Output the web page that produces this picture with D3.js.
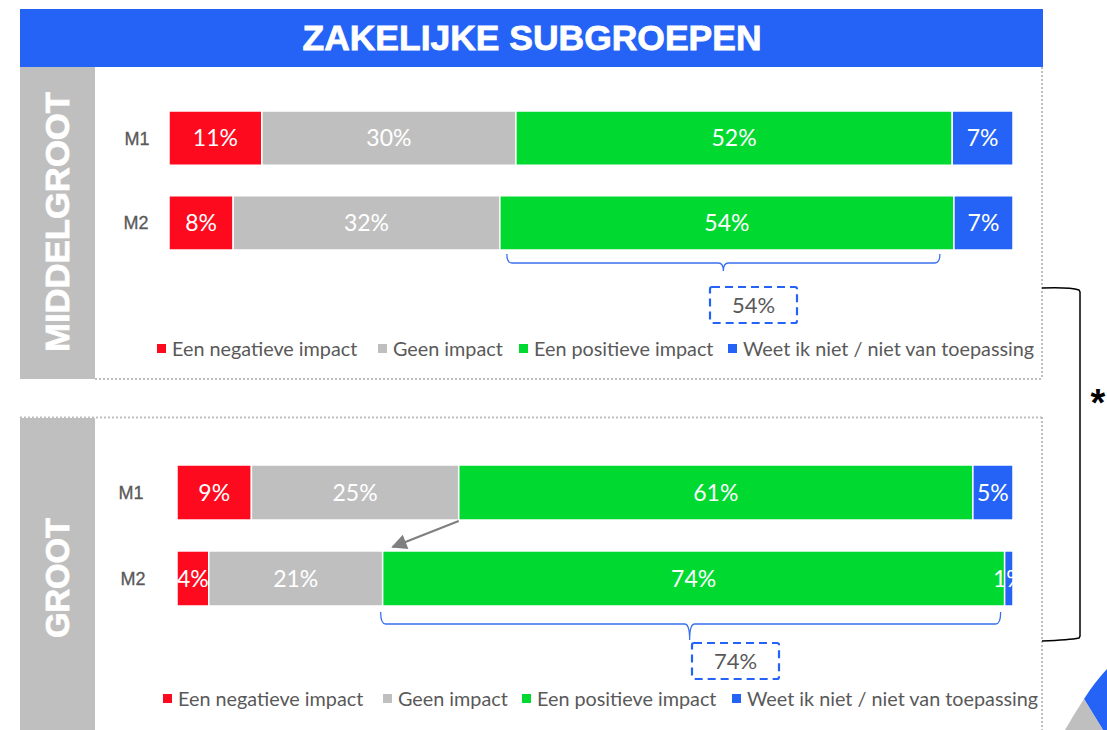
<!DOCTYPE html>
<html><head><meta charset="utf-8">
<script src="https://cdn.jsdelivr.net/npm/d3@7"></script>
<style>body{margin:0;background:#fff}svg{display:block}</style>
</head><body>
<svg id="c" width="1107" height="730"></svg>
<script>
// ---------- data ----------
const title = "ZAKELIJKE SUBGROEPEN";
const groups = ["MIDDELGROOT", "GROOT"];
const categories = ["M1", "M2"];
const seriesNames = ["Een negatieve impact", "Geen impact", "Een positieve impact", "Weet ik niet / niet van toepassing"];
const seriesColors = ["#FD0A1E", "#BFBFBF", "#00DA30", "#2463F5"];
// values and their printed labels
const midValues = [[11.0, 30.1, 51.7, 7.2], [7.6, 31.6, 53.8, 7.0]];
const midLabels = [["11%", "30%", "52%", "7%"], ["8%", "32%", "54%", "7%"]];
const grootValues = [[8.9, 24.8, 61.5, 4.8], [3.8, 20.8, 74.4, 1.0]];
const grootLabels = [["9%", "25%", "61%", "5%"], ["4%", "21%", "74%", "1%"]];
const highlight = ["54%", "74%"];

// ---------- layout ----------
const svg = d3.select("#c");
const font = "Lato, 'Open Sans', sans-serif";

// title bar
svg.append("rect").attr("x", 20).attr("y", 9).attr("width", 1023).attr("height", 58).attr("fill", "#2463F5");
svg.append("text").attr("x", 532).attr("y", 50).attr("text-anchor", "middle")
  .attr("fill", "#fff").attr("font-family", "'Liberation Sans', Arial, sans-serif").attr("font-weight", "bold")
  .attr("font-size", 35).attr("stroke", "#fff").attr("stroke-width", 0.8)
  .attr("textLength", 459).attr("lengthAdjust", "spacingAndGlyphs").text(title);

const panels = [
  {name: groups[0], values: midValues, labels: midLabels, top: 67, bottom: 379, x0: 169, x1: 1013,
   band: [111, 250], brace: {y0: 254, y1: 263, y2: 271}, box: {x: 710, y: 287, w: 87, h: 36},
   nameLen: 260, nameY: 222, catX: [137, 136], legX: [157, 378, 519, 728], legY: 349, hl: highlight[0], borderTop: false},
  {name: groups[1], values: grootValues, labels: grootLabels, top: 417, bottom: 740, x0: 177, x1: 1013,
   band: [465, 606], brace: {y0: 612, y1: 624, y2: 640}, box: {x: 692, y: 643, w: 87, h: 36},
   nameLen: 120, nameY: 578, catX: [131, 133], legX: [163, 383, 522, 732], legY: 699, hl: highlight[1], borderTop: true}
];

panels.forEach((p, pi) => {
  const g = svg.append("g");
  // dotted borders
  const dot = s => s.attr("stroke", "#BFBFBF").attr("stroke-width", 2).attr("stroke-dasharray", "2,2").attr("fill", "none");
  if (p.borderTop) dot(g.append("line").attr("x1", 20).attr("x2", 1042).attr("y1", p.top + 0.5).attr("y2", p.top + 0.5));
  dot(g.append("line").attr("x1", 1042).attr("x2", 1042).attr("y1", p.top).attr("y2", p.bottom));
  if (pi === 0) dot(g.append("line").attr("x1", 95).attr("x2", 1042).attr("y1", p.bottom).attr("y2", p.bottom));
  // side bar
  g.append("rect").attr("x", 20).attr("y", p.top + (p.borderTop ? 1 : 0)).attr("width", 75)
    .attr("height", Math.min(p.bottom, 730) - p.top).attr("fill", "#BFBFBF");
  g.append("text").attr("transform", `translate(69,${p.nameY}) rotate(-90)`).attr("text-anchor", "middle")
    .attr("fill", "#fff").attr("font-family", "'Liberation Sans', Arial, sans-serif").attr("font-weight", "bold")
    .attr("font-size", 33).attr("stroke", "#fff").attr("stroke-width", 0.8)
    .attr("textLength", p.nameLen).attr("lengthAdjust", "spacingAndGlyphs").text(p.name);

  const x = d3.scaleLinear().domain([0, 100]).range([p.x0, p.x1]);
  const y = d3.scaleBand().domain(categories).range(p.band).paddingInner(0.36).paddingOuter(0);

  // category labels
  categories.forEach((c, ci) => {
    g.append("text").attr("x", p.catX[ci]).attr("y", y(c) + y.bandwidth() / 2).attr("dy", "0.36em")
      .attr("text-anchor", "middle").attr("fill", "#595959").attr("font-family", "'Liberation Sans', Arial, sans-serif")
      .attr("font-size", 18).attr("stroke", "#595959").attr("stroke-width", 0.3).text(c);
  });

  // stacked segments
  const rows = categories.map((c, ci) => {
    let acc = 0;
    return p.values[ci].map((v, si) => { const s = {cat: c, si, x0: acc, x1: acc + v, label: p.labels[ci][si]}; acc += v; return s; });
  });
  const segG = g.append("g");
  rows.flat().forEach(s => {
    segG.append("rect").attr("x", x(s.x0)).attr("y", y(s.cat)).attr("width", x(s.x1) - x(s.x0))
      .attr("height", y.bandwidth()).attr("fill", seriesColors[s.si]).attr("stroke", "#fff").attr("stroke-width", 1.5);
  });
  rows.flat().forEach(s => {
    segG.append("text").attr("x", (x(s.x0) + x(s.x1)) / 2).attr("y", y(s.cat) + y.bandwidth() / 2).attr("dy", "0.36em")
      .attr("text-anchor", "middle").attr("fill", "#fff").attr("font-family", font).attr("font-size", 23).text(s.label);
  });

  // brace under M2 positive segment
  const pos = rows[1][2];
  const bx0 = x(pos.x0) + (pi === 0 ? 7 : -2), bx1 = x(pos.x1) - (pi === 0 ? 14 : 4);
  const bc = (bx0 + bx1) / 2 - (pi === 0 ? 0 : 1);
  const b = p.brace, r = 5;
  g.append("path").attr("fill", "none").attr("stroke", "#3A6FEF").attr("stroke-width", 1.3)
    .attr("d", `M${bx0},${b.y0} Q${bx0},${b.y1} ${bx0 + r},${b.y1} L${bc - r},${b.y1} Q${bc},${b.y1} ${bc},${b.y2}
                M${bc},${b.y2} Q${bc},${b.y1} ${bc + r},${b.y1} L${bx1 - r},${b.y1} Q${bx1},${b.y1} ${bx1},${b.y0}`);
  // dashed box
  g.append("rect").attr("x", p.box.x).attr("y", p.box.y).attr("width", p.box.w).attr("height", p.box.h).attr("rx", 2)
    .attr("fill", "none").attr("stroke", "#2463F5").attr("stroke-width", 2.2).attr("stroke-dasharray", "8,5");
  g.append("text").attr("x", p.box.x + p.box.w / 2).attr("y", p.box.y + p.box.h / 2).attr("dy", "0.36em")
    .attr("text-anchor", "middle").attr("fill", "#595959").attr("font-family", font).attr("font-size", 22).text(p.hl);

  // legend
  seriesNames.forEach((n, si) => {
    g.append("rect").attr("x", p.legX[si]).attr("y", p.legY - 5).attr("width", 9).attr("height", 9).attr("fill", seriesColors[si]);
    g.append("text").attr("x", p.legX[si] + 15).attr("y", p.legY).attr("dy", "0.36em").attr("fill", "#595959")
      .attr("font-family", font).attr("font-size", 19.8).text(n);
  });

  // arrow (groot panel)
  if (pi === 1) {
    const ax0 = x(rows[0][2].x0), ay0 = y("M1") + y.bandwidth() + 1;
    const ax1 = x(rows[1][2].x0) + 10, ay1 = y("M2") - 4;
    svg.append("defs").append("marker").attr("id", "ah").attr("viewBox", "0 0 10 10").attr("refX", 9).attr("refY", 5)
      .attr("markerWidth", 7.5).attr("markerHeight", 7).attr("orient", "auto")
      .append("path").attr("d", "M0,0 L10,5 L0,10 z").attr("fill", "#7F7F7F");
    g.append("line").attr("x1", ax0).attr("y1", ay0).attr("x2", ax1).attr("y2", ay1)
      .attr("stroke", "#7F7F7F").attr("stroke-width", 2.2).attr("marker-end", "url(#ah)");
  }
});

// significance bracket
svg.append("path").attr("fill", "none").attr("stroke", "#000").attr("stroke-width", 1.5)
  .attr("d", "M1042,288 Q1070,287 1079,290 L1080,292 L1080,636 L1079,638 Q1070,640 1042,641");
svg.append("text").attr("x", 1098).attr("y", 416).attr("text-anchor", "middle").attr("fill", "#000")
  .attr("font-family", "'Liberation Sans', Arial, sans-serif").attr("font-weight", "bold").attr("font-size", 38).text("*");

// corner decoration (partial pie visible at the page edge)
svg.append("path").attr("fill", "#2463F5")
  .attr("d", "M1107,669 Q1094,683 1084,699 L1103,730 L1107,730 Z");
svg.append("path").attr("fill", "#BFBFBF")
  .attr("d", "M1084,699 Q1074,714 1065,730 L1103,730 Z");
</script>
</body></html>
